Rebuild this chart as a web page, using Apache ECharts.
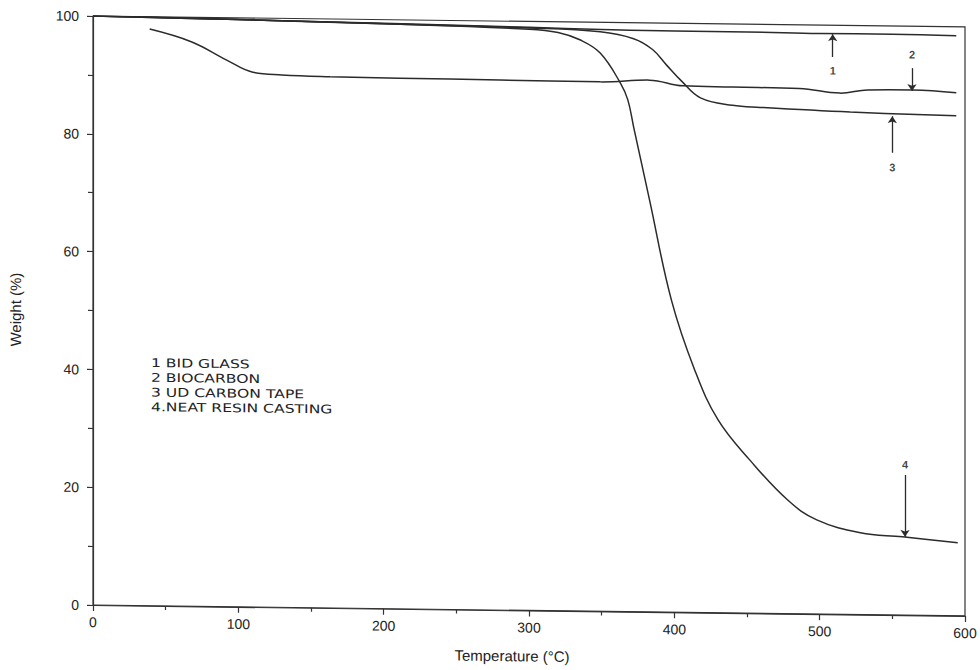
<!DOCTYPE html>
<html><head><meta charset="utf-8">
<script src="https://cdn.jsdelivr.net/npm/echarts@6/dist/echarts.min.js"></script>
<style>
html,body{margin:0;padding:0;background:#fff;}
#wrap{width:980px;height:670px;transform:skewY(0.72deg);transform-origin:93px 0;}
#chart{width:980px;height:670px;}
</style></head><body>
<div id="wrap"><div id="chart"></div></div>
<script>
const seriesNames = ['1 BID GLASS', '2 BIOCARBON', '3 UD CARBON TAPE', '4.NEAT RESIN CASTING'];

const bidGlassT = [0, 50, 100, 200, 300, 350, 400, 450, 500, 550, 594];
const bidGlassW = [100, 99.9, 99.7, 99.4, 99.0, 98.8, 98.7, 98.7, 98.6, 98.6, 98.5];

const bioCarbonT = [39, 68, 92, 110, 130, 163, 211, 280, 349, 383, 406, 440, 486, 514, 533, 564, 594];
const bioCarbonW = [97.9, 95.8, 92.8, 90.8, 90.4, 90.2, 90.1, 90.0, 89.9, 90.3, 89.4, 89.3, 89.2, 88.5, 89.1, 89.2, 88.8];

const udCarbonT = [0, 100, 200, 300, 349, 372, 385, 395, 405, 418, 440, 459, 521, 594];
const udCarbonW = [100, 99.7, 99.3, 98.9, 98.4, 97.3, 95.5, 92.8, 90.2, 87.4, 86.2, 85.9, 85.3, 84.9];

const resinT = [0, 100, 200, 300, 320, 335, 349, 363, 368, 372, 383, 398, 414, 430, 452, 478, 498, 528, 557, 595];
const resinW = [100, 99.7, 99.3, 98.7, 98.2, 97.0, 94.8, 89.7, 86.9, 82.3, 69.9, 53.0, 41.2, 32.8, 26.0, 19.3, 16.0, 13.9, 13.3, 12.4];

// curve-identifying arrows
const arrowLabels = ['1', '2', '3', '4'];
const arrowT = [509, 563.5, 550, 558.7];
const arrowFromW = [94.6, 92.9, 78.5, 23.8];
const arrowToW = [98.5, 89.0, 84.7, 13.3];
const arrowLabelW = [92.3, 95.2, 76.0, 25.6];

const xAxisName = 'Temperature (°C)';
const yAxisName = 'Weight (%)';

function zip(a, b) { return a.map((v, i) => [v, b[i]]); }

const lineColor = '#2b2b2b';
const curves = [[bidGlassT, bidGlassW], [bioCarbonT, bioCarbonW], [udCarbonT, udCarbonW], [resinT, resinW]];

const series = curves.map((c, i) => ({
  name: seriesNames[i],
  type: 'line',
  data: zip(c[0], c[1]),
  showSymbol: false,
  smooth: 0.4,
  lineStyle: { color: lineColor, width: 1.5 },
  silent: true
}));

series.push({
  type: 'line',
  data: [],
  silent: true,
  markLine: {
    silent: true,
    symbol: ['none', 'arrow'],
    symbolSize: 7,
    label: { show: false },
    lineStyle: { color: lineColor, width: 1.3, type: 'solid' },
    data: arrowT.map((t, i) => [{ coord: [t, arrowFromW[i]] }, { coord: [t, arrowToW[i]] }])
  }
});

series.push({
  type: 'scatter',
  symbolSize: 1,
  silent: true,
  itemStyle: { color: 'rgba(0,0,0,0)' },
  data: arrowT.map((t, i) => ({ value: [t, arrowLabelW[i]], name: arrowLabels[i] })),
  label: {
    show: true, position: 'inside', formatter: p => p.name,
    color: '#111111', textBorderWidth: 0, fontSize: 11, fontWeight: 'bold', fontFamily: 'Liberation Sans, Arial, sans-serif'
  }
});

const legendText = { fontSize: 12, fill: '#222', fontFamily: 'DejaVu Sans, sans-serif' };

const chart = echarts.init(document.getElementById('chart'), null, { renderer: 'svg', width: 980, height: 670 });
chart.setOption({
  animation: false,
  backgroundColor: '#ffffff',
  graphic: seriesNames.map((n, i) => ({
    type: 'text',
    x: 151, y: 356 + i * 14.7,
    scaleX: 1.3,
    silent: true,
    style: Object.assign({ text: n }, legendText)
  })),
  grid: { left: 93, right: 15, top: 16, bottom: 65, show: true, borderColor: '#333', borderWidth: 1.2, backgroundColor: 'transparent' },
  xAxis: {
    type: 'value', min: 0, max: 600, interval: 100,
    name: xAxisName, nameLocation: 'middle', nameGap: 38,
    nameTextStyle: { fontSize: 15, color: '#222', fontFamily: 'Liberation Sans, Arial, sans-serif', padding: [0, 34, 0, 0] },
    axisLine: { show: true, lineStyle: { color: '#333', width: 1.2 } },
    axisTick: { show: true, length: 6, lineStyle: { color: '#333', width: 1.2 } },
    minorTick: { show: true, splitNumber: 2, length: 4, lineStyle: { color: '#333', width: 1.2 } },
    axisLabel: { fontSize: 14, color: '#222', margin: 10, fontFamily: 'Liberation Sans, Arial, sans-serif' },
    splitLine: { show: false }
  },
  yAxis: {
    type: 'value', min: 0, max: 100, interval: 20,
    name: yAxisName, nameLocation: 'middle', nameGap: 70, nameRotate: 90,
    nameTextStyle: { fontSize: 15, color: '#222', fontFamily: 'Liberation Sans, Arial, sans-serif' },
    axisLine: { show: true, lineStyle: { color: '#333', width: 1.2 } },
    axisTick: { show: true, length: 6, lineStyle: { color: '#333', width: 1.2 } },
    minorTick: { show: true, splitNumber: 2, length: 5, lineStyle: { color: '#333', width: 1.2 } },
    axisLabel: { fontSize: 14, color: '#222', margin: 14, fontFamily: 'Liberation Sans, Arial, sans-serif' },
    splitLine: { show: false }
  },
  series: series
});
</script>
</body></html>
